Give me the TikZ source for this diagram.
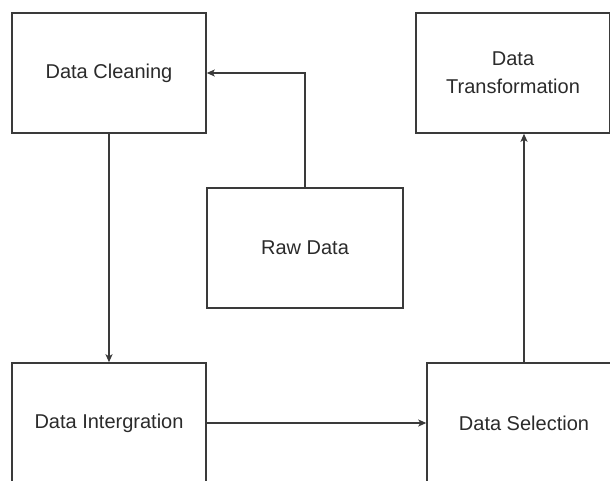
\documentclass[tikz,border=0pt]{standalone}
\usepackage{fontspec}
\setmainfont{Liberation Sans}
\usetikzlibrary{arrows.meta}
\definecolor{FlowLine}{HTML}{3A3A3A}
\definecolor{FlowText}{HTML}{2B2B2B}

\begin{document}
\begin{tikzpicture}[x=1pt,y=-1pt,
  stagebox/.style={draw=FlowLine,line width=1.5pt,fill=white,minimum width=194pt,minimum height=120pt,
    inner sep=0pt,font=\fontsize{20}{28}\selectfont,text=FlowText,align=center},
  flow/.style={draw=FlowLine,line width=1.5pt,-{Stealth[length=8pt,width=7pt,inset=2pt]}}]
  \useasboundingbox (0,0) rectangle (610,480);
  \clip (0,0) rectangle (610,480);
  \node[stagebox] (clean) at (109,73) {Data Cleaning};
  \node[stagebox] (trans) at (513,73) {Data\\Transformation};
  \node[stagebox,minimum width=196pt] (raw) at (305,248) {Raw Data};
  \node[stagebox] (integ) at (109,423) {Data Intergration};
  \node[stagebox] (sel) at (524,423) {Data Selection};
  \draw[flow] (raw.north) |- (clean.east);
  \draw[flow] (clean.south) -- (integ.north);
  \draw[flow] (integ.east) -- (sel.west);
  \draw[flow] (sel.north) -- (sel.north |- trans.south);
\end{tikzpicture}
\end{document}
